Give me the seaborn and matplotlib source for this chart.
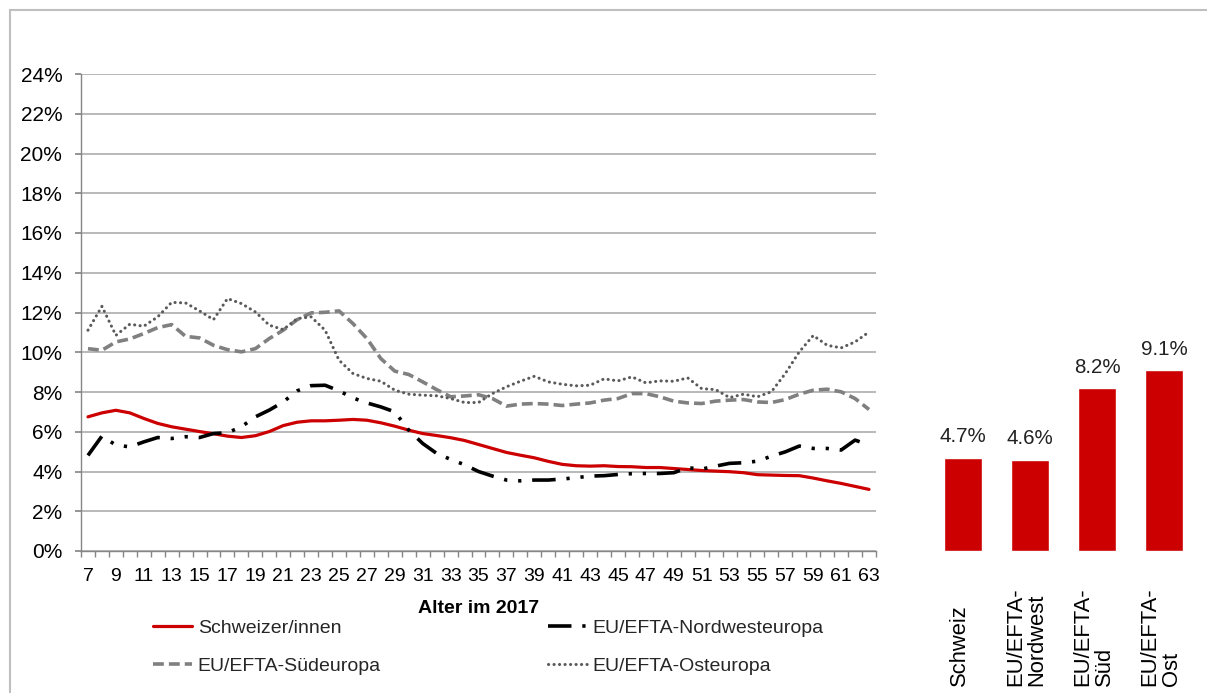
import matplotlib
matplotlib.use('Agg')
import matplotlib.pyplot as plt
import matplotlib.transforms as mtransforms
from matplotlib import font_manager
from matplotlib.patches import Rectangle
from matplotlib.ticker import FixedLocator
import numpy as np
import pandas as pd
import seaborn as sns

# Alter im 2017 (7..63)
ages = list(range(7, 64))

schweiz = [6.75, 6.95, 7.08, 6.95, 6.67, 6.42, 6.25, 6.13, 6.01, 5.9, 5.78, 5.71, 5.8, 6.01,
           6.31, 6.48, 6.55, 6.55, 6.58, 6.62, 6.58, 6.45, 6.28, 6.08, 5.91, 5.81, 5.70, 5.56,
           5.36, 5.16, 4.96, 4.82, 4.69, 4.51, 4.36, 4.29, 4.27, 4.29, 4.25, 4.24, 4.2, 4.2,
           4.15, 4.1, 4.05, 4.02, 3.99, 3.94, 3.84, 3.82, 3.8, 3.79, 3.67, 3.53, 3.4, 3.25, 3.1]
nordwest = [4.81, 5.78, 5.33, 5.24, 5.49, 5.71, 5.66, 5.75, 5.71, 5.91, 5.95, 6.25, 6.75, 7.09,
            7.5, 8.06, 8.32, 8.34, 8.06, 7.7, 7.45, 7.25, 7.0, 6.08, 5.41, 4.91, 4.61, 4.34,
            4.0, 3.77, 3.57, 3.53, 3.57, 3.57, 3.62, 3.69, 3.77, 3.79, 3.85, 3.89, 3.9, 3.9,
            3.94, 4.19, 4.12, 4.27, 4.41, 4.44, 4.52, 4.77, 4.99, 5.28, 5.16, 5.16, 5.08, 5.58, 5.33]
sued = [10.18, 10.1, 10.52, 10.67, 10.94, 11.24, 11.39, 10.8, 10.72, 10.35, 10.13, 10.02, 10.18,
        10.69, 11.11, 11.64, 11.98, 12.01, 12.08, 11.44, 10.69, 9.68, 9.05, 8.88, 8.51, 8.12,
        7.76, 7.8, 7.86, 7.67, 7.29, 7.39, 7.42, 7.39, 7.32, 7.39, 7.45, 7.59, 7.67, 7.92, 7.92,
        7.76, 7.54, 7.45, 7.42, 7.54, 7.59, 7.62, 7.5, 7.47, 7.62, 7.89, 8.09, 8.14, 8.01, 7.67, 7.12]
ost = [11.11, 12.31, 10.85, 11.41, 11.31, 11.78, 12.51, 12.48, 12.08, 11.64, 12.7, 12.45, 12.03,
       11.36, 11.14, 11.69, 11.78, 11.11, 9.6, 8.93, 8.68, 8.54, 8.09, 7.89, 7.84, 7.81, 7.67,
       7.47, 7.47, 7.92, 8.26, 8.54, 8.79, 8.51, 8.39, 8.31, 8.34, 8.66, 8.56, 8.76, 8.46, 8.56,
       8.54, 8.71, 8.17, 8.12, 7.72, 7.89, 7.76, 8.01, 8.93, 10.02, 10.84, 10.35, 10.22, 10.52, 11.02]

series_names = ['Schweizer/innen', 'EU/EFTA-Nordwesteuropa', 'EU/EFTA-Südeuropa', 'EU/EFTA-Osteuropa']

bar_cats = ['Schweiz', 'EU/EFTA-\nNordwest', 'EU/EFTA-\nSüd', 'EU/EFTA-\nOst']
bar_vals = [4.7, 4.6, 8.2, 9.1]

y_ticks = list(range(0, 25, 2))

sns.set_theme(style='white')
names = {f.name for f in font_manager.fontManager.ttflist}
narrow = 'Liberation Sans Narrow' if 'Liberation Sans Narrow' in names else 'Liberation Sans'
nf = 1.0 if narrow == 'Liberation Sans Narrow' else 0.8
plt.rcParams['font.family'] = ['Liberation Sans', 'DejaVu Sans']

W, H = 1207, 693
fig = plt.figure(figsize=(W / 100, H / 100), dpi=100)
ax = fig.add_axes([81 / W, 1 - 551 / H, 795 / W, 477 / H])

df = pd.DataFrame({'pos': np.arange(len(ages)), 'age': ages,
                   'Schweizer/innen': schweiz, 'EU/EFTA-Nordwesteuropa': nordwest,
                   'EU/EFTA-Südeuropa': sued, 'EU/EFTA-Osteuropa': ost})

styles = {
    'Schweizer/innen': dict(color='#cc0000', lw=2.3, dashes=None),
    'EU/EFTA-Nordwesteuropa': dict(color='black', lw=2.6, dashes=(6.5, 3.0, 0.9, 3.0, 0.9, 3.0)),
    'EU/EFTA-Südeuropa': dict(color='#808080', lw=2.6, dashes=(3.0, 1.4)),
    'EU/EFTA-Osteuropa': dict(color='#5a5a5a', lw=2.2, dashes=(0.05, 1.75)),
}

handles = []
for name in series_names:
    st = styles[name]
    sns.lineplot(data=df, x='pos', y=name, ax=ax, color=st['color'], linewidth=st['lw'], label=name)
    line = ax.lines[-1]
    if st['dashes'] is not None:
        line.set_dashes(st['dashes'])
        if name == 'EU/EFTA-Osteuropa':
            line.set_dash_capstyle('round')
    handles.append(line)

ax.set_xlim(-0.5, len(ages) - 0.5)
ax.set_ylim(0, 24)
ax.set_yticks(y_ticks)
ax.set_yticklabels([f'{t}%' for t in y_ticks])
ax.set_xticks(df['pos'][::2])
ax.set_xticklabels([str(a) for a in ages[::2]], family=narrow)
ax.xaxis.set_minor_locator(FixedLocator(np.arange(-0.5, len(ages), 1)))

ax.yaxis.grid(True, color='#a6a6a6', lw=1.1)
ax.set_axisbelow(True)
for s in ['top', 'right']:
    ax.spines[s].set_visible(False)
for s in ['left', 'bottom']:
    ax.spines[s].set_color('#868686')
    ax.spines[s].set_linewidth(1.0)

ax.tick_params(axis='y', left=True, length=4.5, color='#868686', labelsize=15, pad=9, labelcolor='black')
ax.tick_params(axis='x', which='major', bottom=True, length=0, labelsize=17.5 * nf, pad=12, labelcolor='black')
ax.tick_params(axis='x', which='minor', bottom=True, length=4.3, color='#868686', width=1.0)

ax.set_ylabel('')
ax.set_xlabel('Alter im 2017', fontsize=14, fontweight='bold', labelpad=11, color='black')

# legend: 2 columns, row-wise order like the original
order = [0, 2, 1, 3]
ax.legend([handles[i] for i in order], [series_names[i] for i in order], ncol=2,
          loc='upper left', bbox_to_anchor=(153 / W, 1 - 619 / H),
          bbox_transform=fig.transFigure, frameon=False, borderpad=0, borderaxespad=0,
          handlelength=2.0, handletextpad=0.3, columnspacing=8.6, labelspacing=1.05,
          fontsize=14)

# bar chart on the right
ax2 = fig.add_axes([929.5 / W, 1 - 551 / H, 268 / W, 477 / H])
sns.barplot(x=bar_cats, y=bar_vals, color='#cc0000', saturation=1, width=0.57, ax=ax2)
ax2.set_ylim(0, 24)
ax2.set_xlim(-0.5, len(bar_cats) - 0.5)
ax2.bar_label(ax2.containers[0], labels=[f'{v}%' for v in bar_vals], padding=8,
              fontsize=18.5 * nf, family=narrow, color='#222222')
ax2.set_axis_off()

trans = mtransforms.blended_transform_factory(ax2.transData, fig.transFigure)
for i, lab in enumerate(bar_cats):
    ax2.text(i - 0.05, 7 / H, lab, transform=trans, rotation=90, ha='center', va='bottom',
             multialignment='left', fontsize=19.8 * nf, family=narrow, color='black',
             linespacing=1.0)

# outer chart frame (top and left edges visible)
fig.add_artist(Rectangle((9.5 / W, -0.1), 1.2, 1.1 - 9.5 / H, transform=fig.transFigure,
                         fill=False, edgecolor='#bfbfbf', lw=1.5))

fig.savefig('out.png', dpi=100)
